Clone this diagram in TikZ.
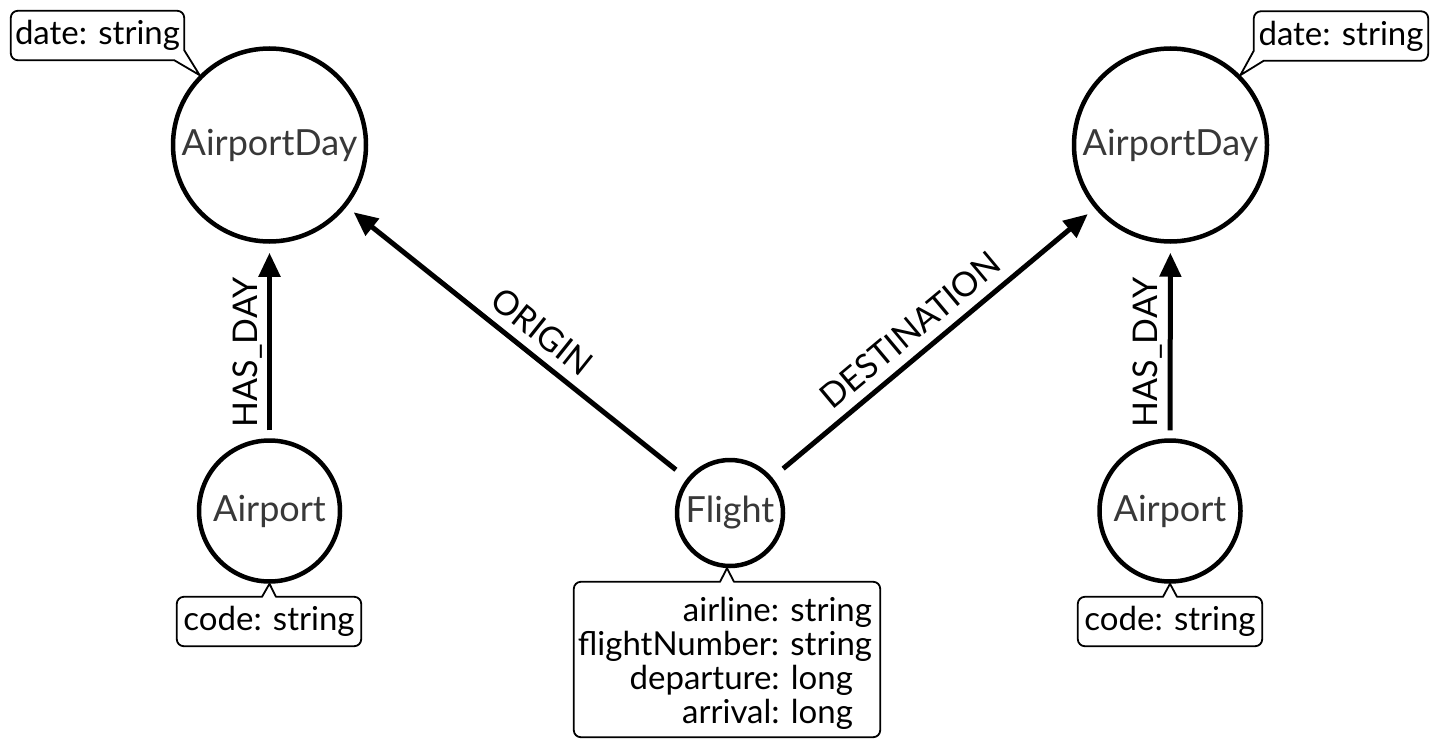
\documentclass[tikz,border=0pt]{standalone}
\usepackage{fontspec}
\setmainfont{Lato}
\usetikzlibrary{arrows.meta}
\begin{document}
\begin{tikzpicture}[x=1pt,y=-1pt,
  entity/.style={circle, draw, line width=4.5pt, text=black!78, font=\fontsize{36}{40}\selectfont, inner sep=0pt},
  rel/.style={line width=5pt, -{Triangle[length=24pt,width=21pt]}, shorten <=14pt, shorten >=9pt},
  rellabel/.style={font=\fontsize{34}{36}\selectfont, sloped, above, inner xsep=0pt, inner ysep=10pt, text depth=0pt},
  propbox/.style={line width=1.8pt, line join=round},
  boxarea/.style={inner sep=0pt, font=\fontsize{33}{36}\selectfont},
]
\useasboundingbox (0,0) rectangle (1440,749);
\fill[white] (0,0) rectangle (1440,749);

% entities
\node[entity, minimum size=193pt] (adl) at (269.5,145) {AirportDay};
\node[entity, minimum size=193pt] (adr) at (1170.5,145) {AirportDay};
\node[entity, minimum size=141pt] (apl) at (269.5,511) {Airport};
\node[entity, minimum size=141pt] (apr) at (1170,511) {Airport};
\node[entity, minimum size=106pt] (fl) at (730,513) {Flight};

% relationships
\draw[rel, shorten <=8pt] (apl) -- node[rellabel, pos=0.443] {HAS\_DAY} (adl);
\draw[rel, shorten <=8pt] (apr) -- node[rellabel, pos=0.443] {HAS\_DAY} (adr);
\draw[rel] (fl) -- node[rellabel, pos=0.47] {ORIGIN} (adl);
\draw[rel] (fl) -- node[rellabel, pos=0.477] {DESTINATION} (adr);

% property boxes
\node[boxarea, minimum width=173pt, minimum height=49pt] (dtl) at (97.5,35.5) {date: string};
\node[boxarea, minimum width=174pt, minimum height=49pt] (dtr) at (1341,36) {date: string};
\node[boxarea, minimum width=184pt, minimum height=49pt] (cdl) at (269,621.5) {code: string};
\node[boxarea, minimum width=184pt, minimum height=49pt] (cdr) at (1170,621.5) {code: string};
\node[boxarea, minimum width=306pt, minimum height=155pt] (flb) at (727,659.5) {};
\node[boxarea, anchor=north east, align=right, font=\fontsize{33}{34}\selectfont]
  (flt) at ([xshift=-8pt,yshift=-15pt]flb.north east)
  {airline: string\\flightNumber: string\\departure: long\rule{19pt}{0pt}\\arrival: long\rule{19pt}{0pt}};

\coordinate (tdl) at (adl.135);
\coordinate (tdr) at (adr.45);
\coordinate (tcl) at (apl.south);
\coordinate (tcr) at (apr.south);
\coordinate (tfl) at (fl.south -| flb.north);

% left date callout (pointer at bottom-right corner)
\draw[propbox] ([xshift=7pt]dtl.north west) -- ([xshift=-7pt]dtl.north east)
  arc[start angle=90,end angle=0,radius=7pt] -- ([yshift=10pt]dtl.south east)
  -- (tdl) -- ([xshift=-10pt]dtl.south east) -- ([xshift=7pt]dtl.south west)
  arc[start angle=270,end angle=180,radius=7pt] -- ([yshift=-7pt]dtl.north west)
  arc[start angle=180,end angle=90,radius=7pt] -- cycle;
% right date callout (pointer at bottom-left corner)
\draw[propbox] ([xshift=7pt]dtr.north west) -- ([xshift=-7pt]dtr.north east)
  arc[start angle=90,end angle=0,radius=7pt] -- ([yshift=7pt]dtr.south east)
  arc[start angle=0,end angle=-90,radius=7pt] -- ([xshift=10pt]dtr.south west)
  -- (tdr) -- ([yshift=10pt]dtr.south west) -- ([yshift=-7pt]dtr.north west)
  arc[start angle=180,end angle=90,radius=7pt] -- cycle;
% bottom callouts (pointer at top centre)
\foreach \b/\t in {cdl/tcl, cdr/tcr, flb/tfl}{
  \draw[propbox] ([xshift=7pt]\b.north west) -- ([xshift=-7pt]\b.north)
    -- (\t) -- ([xshift=7pt]\b.north) -- ([xshift=-7pt]\b.north east)
    arc[start angle=90,end angle=0,radius=7pt] -- ([yshift=7pt]\b.south east)
    arc[start angle=0,end angle=-90,radius=7pt] -- ([xshift=7pt]\b.south west)
    arc[start angle=270,end angle=180,radius=7pt] -- ([yshift=-7pt]\b.north west)
    arc[start angle=180,end angle=90,radius=7pt] -- cycle;
}
\end{tikzpicture}
\end{document}
